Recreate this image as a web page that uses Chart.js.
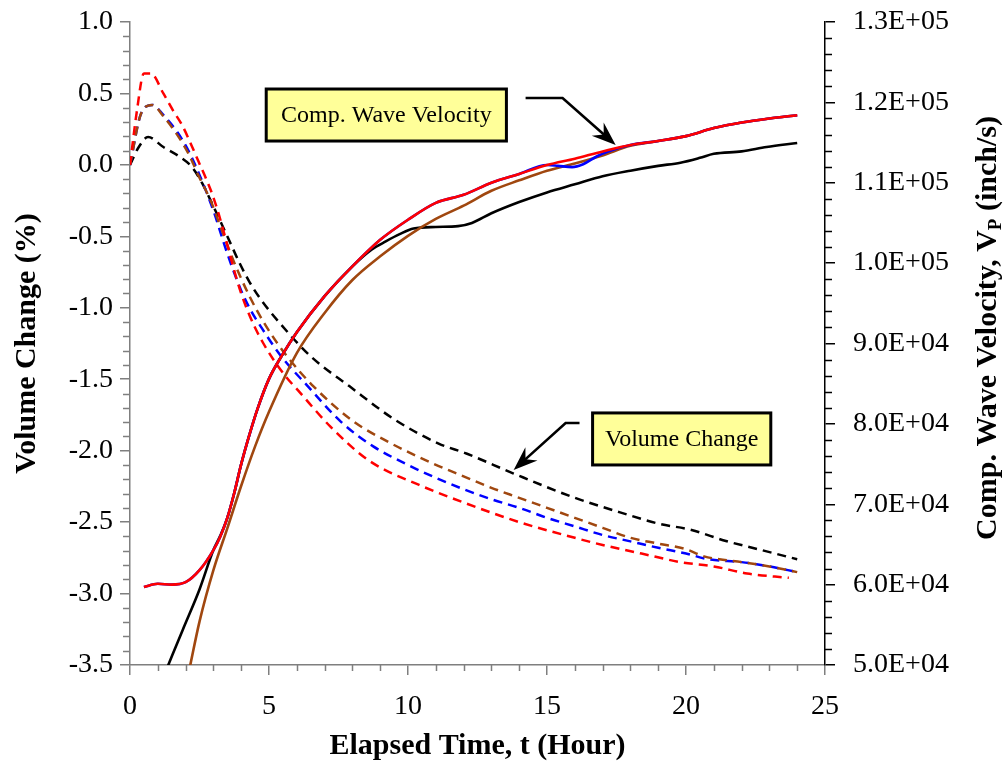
<!DOCTYPE html>
<html>
<head>
<meta charset="utf-8">
<script src="https://cdn.jsdelivr.net/npm/chart.js@4.4.1/dist/chart.umd.min.js"></script>
<style>
  html, body { margin: 0; padding: 0; background: #fff; }
</style>
</head>
<body>
<canvas id="chart" width="1008" height="770"></canvas>
<script>
// Volume change (%) - dashed, left axis
var volBlackT = [0, 0.3, 0.65, 1.2, 1.8, 2.25, 2.6, 3.0, 3.5, 3.95, 4.3, 4.7, 5.4, 6.5, 7.9, 9.5, 11.1, 12.1, 13.8, 16.0, 17.6, 19.0, 20.2, 21.4, 22.6, 24];
var volBlackV = [0, 0.12, 0.195, 0.125, 0.055, -0.02, -0.13, -0.29, -0.50, -0.69, -0.82, -0.94, -1.11, -1.34, -1.55, -1.78, -1.95, -2.02, -2.16, -2.33, -2.43, -2.51, -2.555, -2.63, -2.69, -2.76];

var volBrownT = [0, 0.4, 0.8, 1.2, 1.7, 2.1, 2.5, 2.9, 3.25, 3.7, 4.3, 4.9, 5.65, 6.6, 8.0, 9.3, 10.9, 12, 13, 14, 15, 16, 17, 18, 19, 20, 20.65, 21.2, 22, 23, 24];
var volBrownV = [0, 0.36, 0.42, 0.34, 0.21, 0.08, -0.09, -0.25, -0.43, -0.66, -0.92, -1.13, -1.34, -1.55, -1.79, -1.94, -2.09, -2.18, -2.26, -2.33, -2.40, -2.47, -2.54, -2.61, -2.65, -2.69, -2.74, -2.76, -2.78, -2.81, -2.85];

var volBlueT = [0, 0.4, 0.8, 1.2, 1.7, 2.1, 2.5, 3.0, 3.5, 4.0, 4.35, 4.7, 5.4, 6.4, 7.6, 8.75, 10, 11, 12, 13, 14, 15, 16, 17, 18, 19, 20, 20.8, 22, 23, 24];
var volBlueV = [0, 0.36, 0.42, 0.35, 0.23, 0.10, -0.07, -0.32, -0.62, -0.88, -1.02, -1.13, -1.33, -1.55, -1.80, -1.97, -2.10, -2.19, -2.27, -2.34, -2.40, -2.47, -2.53, -2.59, -2.635, -2.68, -2.72, -2.76, -2.78, -2.81, -2.85];

var volRedT = [0, 0.25, 0.5, 0.75, 1.2, 1.55, 1.87, 2.16, 2.45, 2.7, 2.95, 3.2, 3.5, 3.75, 4.0, 4.25, 4.5, 4.8, 5.15, 5.6, 6.1, 7.2, 8.6, 10.4, 12.1, 14, 16, 17, 18.4, 19.8, 21, 22.2, 23.7];
var volRedV = [0, 0.38, 0.64, 0.64, 0.50, 0.38, 0.28, 0.16, 0.03, -0.08, -0.20, -0.35, -0.56, -0.74, -0.90, -1.03, -1.14, -1.25, -1.36, -1.48, -1.59, -1.83, -2.07, -2.24, -2.37, -2.50, -2.61, -2.66, -2.72, -2.78, -2.81, -2.86, -2.89];

// Comp. wave velocity (inch/s) - solid, right axis
var velBlackT = [1.33, 1.9, 2.5, 3.0, 3.25, 3.5, 3.75, 4.0, 4.3, 4.6, 5, 5.5, 6, 7, 8, 8.7, 9.2, 9.7, 10.2, 11, 11.8, 12.3, 13, 14, 15, 16, 17, 18, 19, 19.8, 20.5, 21, 22, 22.9, 24];
var velBlackV = [49600, 54400, 59400, 64300, 66100, 68300, 71400, 75000, 78700, 82000, 85600, 88700, 91400, 95900, 99600, 101700, 102700, 103600, 104300, 104500, 104600, 105000, 106200, 107600, 108800, 109800, 110800, 111500, 112100, 112500, 113100, 113600, 113900, 114450, 114950];

var velBrownT = [2.15, 2.5, 3.0, 3.5, 4.0, 4.5, 5, 6, 7, 8, 9, 10, 11, 12, 13, 14, 15, 16, 17, 18, 19, 20, 21, 22, 23, 24];
var velBrownV = [49700, 55400, 61800, 67000, 72300, 77200, 81500, 88800, 93800, 97900, 100850, 103400, 105500, 107150, 109000, 110300, 111500, 112400, 113400, 114600, 115200, 115800, 116800, 117500, 118000, 118400];

var velBlueT = [0.5, 1.0, 1.5, 2.0, 2.5, 3.0, 3.25, 3.5, 3.75, 4.0, 4.3, 4.6, 5, 5.5, 6, 7, 8, 9, 10, 11, 12, 13, 14, 15, 15.4, 15.9, 16.3, 16.8, 17.3, 18, 19, 20, 21, 22, 23, 24];
var velBlueV = [59700, 60100, 60000, 60300, 61800, 64300, 66000, 68300, 71400, 75000, 78700, 82000, 85600, 88700, 91400, 95900, 99600, 102900, 105400, 107500, 108500, 110000, 111100, 112200, 112100, 111950, 112300, 113300, 114000, 114700, 115200, 115800, 116800, 117500, 118000, 118400];

var velRedT = [0.5, 1.0, 1.5, 2.0, 2.5, 3.0, 3.25, 3.5, 3.75, 4.0, 4.3, 4.6, 5, 5.5, 6, 7, 8, 9, 10, 11, 12, 13, 14, 15, 16, 17, 18, 19, 20, 21, 22, 23, 24];
var velRedV = [59700, 60100, 60000, 60300, 61800, 64300, 66000, 68300, 71400, 75000, 78700, 82000, 85600, 88700, 91400, 95900, 99600, 102900, 105400, 107500, 108500, 110000, 111100, 112200, 113000, 113900, 114700, 115200, 115800, 116800, 117500, 118000, 118400];

var BROWN = '#a0470f';
var AXIS_GRAY = '#7f7f7f';
var SERIF = "'Liberation Serif', 'DejaVu Serif', serif";

function pts(t, v) {
    return t.map(function (x, i) { return { x: x, y: v[i] }; });
}

function dashed(label, t, v, color, order) {
    return {
        label: label, data: pts(t, v), yAxisID: 'y',
        borderColor: color, borderWidth: 2.5, borderDash: [9, 6],
        pointRadius: 0, fill: false, cubicInterpolationMode: 'monotone', order: order
    };
}

function solid(label, t, v, color, order) {
    return {
        label: label, data: pts(t, v), yAxisID: 'y1',
        borderColor: color, borderWidth: 2.6,
        pointRadius: 0, fill: false, cubicInterpolationMode: 'monotone', order: order
    };
}

var datasets = [
    solid('Vp red', velRedT, velRedV, '#ff0000', 0),
    solid('Vp blue', velBlueT, velBlueV, '#0000ff', 1),
    solid('Vp brown', velBrownT, velBrownV, BROWN, 2),
    solid('Vp black', velBlackT, velBlackV, '#000000', 3),
    dashed('dV red', volRedT, volRedV, '#ff0000', 4),
    dashed('dV brown', volBrownT, volBrownV, BROWN, 5),
    dashed('dV blue', volBlueT, volBlueV, '#0000ff', 6),
    dashed('dV black', volBlackT, volBlackV, '#000000', 7)
];

// callout boxes and arrows, placed in data units (hours, left axis %)
var boxes = [
    { t0: 4.9, t1: 13.54, v0: 0.531, v1: 0.167, text: 'Comp. Wave Velocity' },
    { t0: 16.64, t1: 23.05, v0: -1.736, v1: -2.10, text: 'Volume Change' }
];
var arrows = [
    [[14.23, 0.468], [15.56, 0.468], [17.47, 0.139]],
    [[16.17, -1.806], [15.67, -1.806], [13.80, -2.135]]
];

var decorPlugin = {
    id: 'decor',
    afterDraw: function (chart) {
        var ctx = chart.ctx;
        var xs = chart.scales.x, ys = chart.scales.y, ys1 = chart.scales.y1;
        var area = chart.chartArea;
        ctx.save();

        // minor ticks
        ctx.lineWidth = 1.5;
        ctx.strokeStyle = AXIS_GRAY;
        ctx.beginPath();
        for (var i = 0; i <= 45; i++) {
            if (i % 5 === 0) continue;
            var py = Math.round(ys.getPixelForValue(-3.5 + i * 0.1)) + 0.5;
            ctx.moveTo(area.left - 7, py); ctx.lineTo(area.left, py);
        }
        for (var h = 0; h <= 25; h++) {
            if (h % 5 === 0) continue;
            var px = Math.round(xs.getPixelForValue(h)) + 0.5;
            ctx.moveTo(px, area.bottom); ctx.lineTo(px, area.bottom + 6);
        }
        ctx.stroke();
        ctx.strokeStyle = '#000';
        ctx.beginPath();
        for (var k = 0; k <= 40; k++) {
            if (k % 5 === 0) continue;
            var py1 = Math.round(ys1.getPixelForValue(50000 + k * 2000)) + 0.5;
            ctx.moveTo(area.right, py1); ctx.lineTo(area.right + 7, py1);
        }
        ctx.stroke();

        // arrows
        arrows.forEach(function (a) {
            var p = a.map(function (q) { return [xs.getPixelForValue(q[0]), ys.getPixelForValue(q[1])]; });
            var tip = p[p.length - 1], prev = p[p.length - 2];
            var ang = Math.atan2(tip[1] - prev[1], tip[0] - prev[0]);
            var headLen = 24, headW = 9;
            ctx.strokeStyle = '#000';
            ctx.lineWidth = 2.6;
            ctx.beginPath();
            ctx.moveTo(p[0][0], p[0][1]);
            for (var j = 1; j < p.length - 1; j++) ctx.lineTo(p[j][0], p[j][1]);
            ctx.lineTo(tip[0] - Math.cos(ang) * 12, tip[1] - Math.sin(ang) * 12);
            ctx.stroke();
            ctx.fillStyle = '#000';
            ctx.beginPath();
            ctx.moveTo(tip[0], tip[1]);
            ctx.lineTo(tip[0] - Math.cos(ang) * headLen + Math.sin(ang) * headW,
                       tip[1] - Math.sin(ang) * headLen - Math.cos(ang) * headW);
            ctx.lineTo(tip[0] - Math.cos(ang) * 16, tip[1] - Math.sin(ang) * 16);
            ctx.lineTo(tip[0] - Math.cos(ang) * headLen - Math.sin(ang) * headW,
                       tip[1] - Math.sin(ang) * headLen + Math.cos(ang) * headW);
            ctx.closePath();
            ctx.fill();
        });

        // callout boxes
        boxes.forEach(function (b) {
            var x0 = xs.getPixelForValue(b.t0), x1 = xs.getPixelForValue(b.t1);
            var y0 = ys.getPixelForValue(b.v0), y1 = ys.getPixelForValue(b.v1);
            ctx.fillStyle = '#ffff99';
            ctx.fillRect(x0, y0, x1 - x0, y1 - y0);
            ctx.strokeStyle = '#000';
            ctx.lineWidth = 3;
            ctx.strokeRect(x0, y0, x1 - x0, y1 - y0);
            ctx.fillStyle = '#000';
            ctx.font = '24px ' + SERIF;
            ctx.textAlign = 'center';
            ctx.textBaseline = 'middle';
            ctx.fillText(b.text, (x0 + x1) / 2, (y0 + y1) / 2 + 1);
        });

        // right axis title with subscript P
        var main = 'Comp. Wave Velocity, V', sub = 'P', tail = ' (inch/s)';
        var bigFont = 'bold 30px ' + SERIF, smallFont = 'bold 19px ' + SERIF;
        ctx.font = bigFont;
        var w1 = ctx.measureText(main).width, w3 = ctx.measureText(tail).width;
        ctx.font = smallFont;
        var w2 = ctx.measureText(sub).width;
        var total = w1 + w2 + w3;
        ctx.translate(988, 328);
        ctx.rotate(-Math.PI / 2);
        ctx.fillStyle = '#000';
        ctx.textAlign = 'left';
        ctx.textBaseline = 'middle';
        var sx = -total / 2;
        ctx.font = bigFont;
        ctx.fillText(main, sx, 0);
        ctx.font = smallFont;
        ctx.fillText(sub, sx + w1, 8);
        ctx.font = bigFont;
        ctx.fillText(tail, sx + w1 + w2, 0);
        ctx.restore();
    }
};

var tickFont = { family: SERIF, size: 28 };

function sciLabel(v) {
    var parts = Number(v).toExponential(1).split('e');
    var e = parts[1];
    var sign = e.charAt(0) === '-' ? '-' : '+';
    var digits = e.replace(/[+-]/, '');
    if (digits.length < 2) digits = '0' + digits;
    return parts[0] + 'E' + sign + digits;
}

function fixVertical(width) {
    return function (s) {
        s.width = width;
        s.paddingTop = 0;
        s.paddingBottom = 0;
    };
}

var ctx = document.getElementById('chart').getContext('2d');
new Chart(ctx, {
    type: 'line',
    data: { datasets: datasets },
    options: {
        responsive: false,
        animation: false,
        layout: { padding: { top: 22, left: 0, right: 0, bottom: 0 } },
        plugins: { legend: { display: false }, tooltip: { enabled: false } },
        scales: {
            x: {
                type: 'linear', min: 0, max: 25,
                ticks: { stepSize: 5, color: '#000', font: tickFont, padding: 15, maxRotation: 0 },
                grid: { drawOnChartArea: false, tickLength: 10, color: AXIS_GRAY, lineWidth: 1.5 },
                border: { color: AXIS_GRAY, width: 1.5 },
                title: { display: true, text: 'Elapsed Time, t (Hour)', color: '#000',
                         font: { family: SERIF, size: 30, weight: 'bold' }, padding: { top: 0, bottom: 6 } },
                afterFit: function (s) { s.height = 105; }
            },
            y: {
                position: 'left', min: -3.5, max: 1.0,
                ticks: { stepSize: 0.5, color: '#000', font: tickFont, padding: 7,
                         callback: function (v) { return Number(v).toFixed(1); } },
                grid: { drawOnChartArea: false, tickLength: 10, color: AXIS_GRAY, lineWidth: 1.5 },
                border: { color: AXIS_GRAY, width: 1.5 },
                title: { display: true, text: 'Volume Change (%)', color: '#000',
                         font: { family: SERIF, size: 30, weight: 'bold' }, padding: { top: 9, bottom: 0 } },
                afterFit: fixVertical(130)
            },
            y1: {
                position: 'right', min: 50000, max: 130000,
                ticks: { stepSize: 10000, color: '#000', font: tickFont, padding: 18, callback: sciLabel },
                grid: { drawOnChartArea: false, tickLength: 10, color: '#000', lineWidth: 1.5 },
                border: { color: '#000', width: 1.5 },
                afterFit: fixVertical(183)
            }
        }
    },
    plugins: [decorPlugin]
});
</script>
</body>
</html>
